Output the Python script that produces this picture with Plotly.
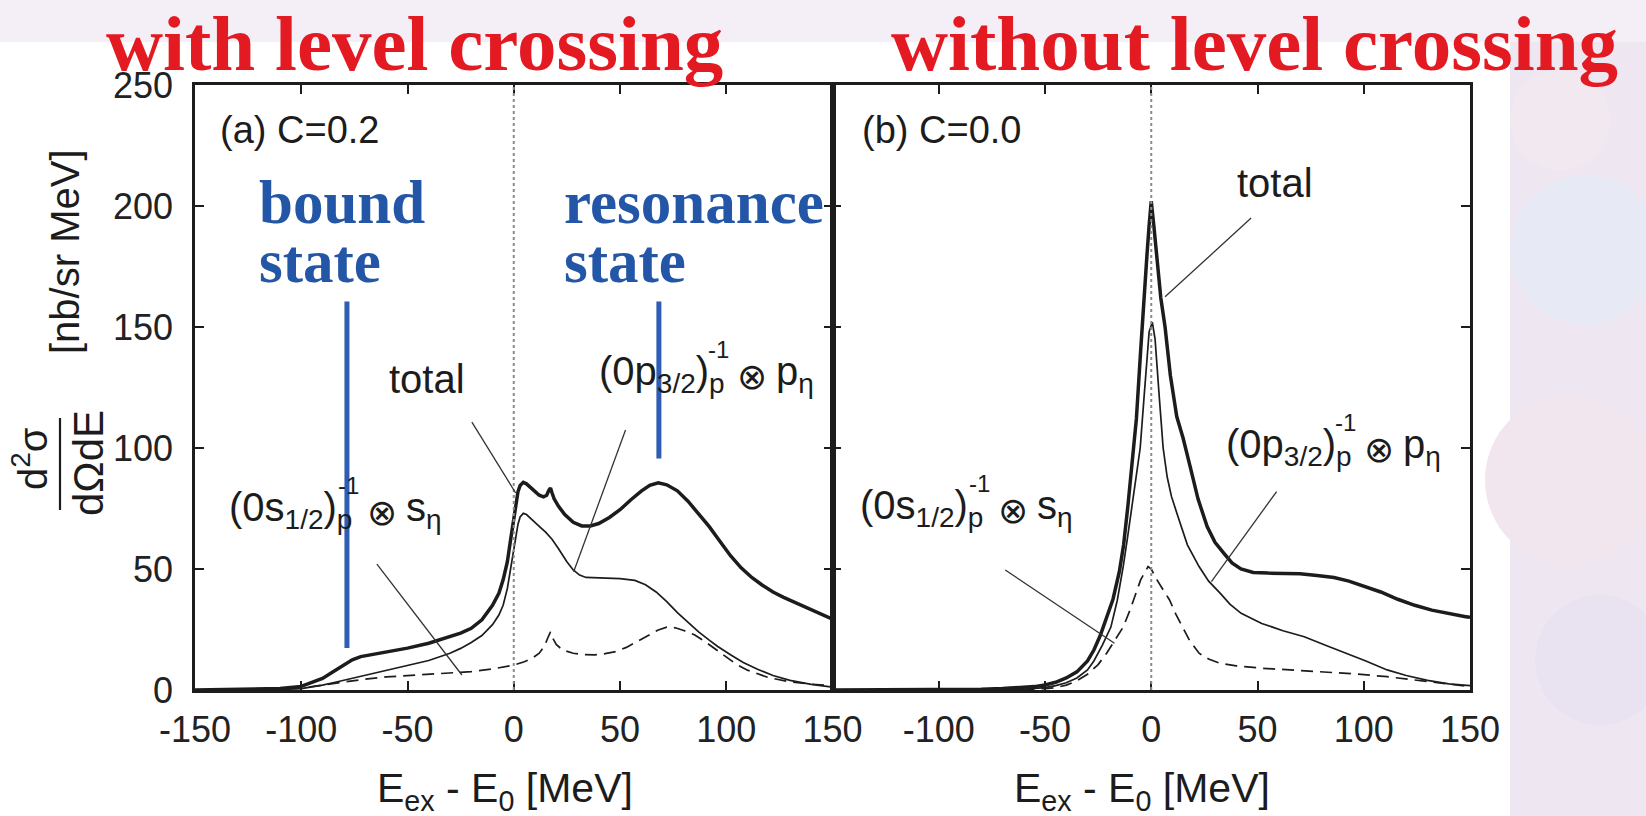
import plotly.graph_objects as go

# ---------------- data: panel (a) C=0.2 ----------------
XA_TOTAL = [-150, -120, -110, -100, -95, -90, -85, -80, -76, -72, -66, -60, -50, -40, -30, -25, -20, -15, -10, -7,
            -5, -3, -1.5, 0, 1, 2, 3, 4.5, 6, 8, 10, 12, 14, 15.5, 16.5, 17.3, 18, 19, 21, 24,
            28, 32, 36, 40, 45, 50, 55, 60, 64, 68, 72, 77, 82, 87, 92, 97, 102, 107, 112, 117,
            122, 127, 132, 137, 142, 148, 150]
YA_TOTAL = [0, 0.2, 0.6, 1.5, 3, 4.8, 7.5, 10.2, 12.5, 13.8, 14.8, 15.6, 17.3, 19.3, 22, 23.5, 25.5, 29, 35, 40,
            45.5, 53, 62, 71, 78, 82, 84.5, 85.8, 85.2, 83.6, 82, 80.5, 79.8, 80.5, 82.5, 83.5, 81.5, 79, 76, 72.5,
            69.3, 67.8, 67.8, 68.8, 71.3, 74.5, 78.5, 82.2, 84.6, 85.6, 84.8, 82.3, 78, 73, 67.5, 61.5, 55.5, 50.5, 46.5, 43.3,
            40.5, 38.3, 36.3, 34.5, 32.5, 30, 29.3]

XA_P32 = [-150, -110, -100, -95, -90, -85, -80, -75, -70, -60, -50, -40, -30, -25, -20, -15, -10, -7, -5, -3,
          -1.5, 0, 1, 2, 3, 4.5, 6, 8, 10, 12.5, 15, 18, 21, 25, 28, 31, 34, 40, 50, 57,
          62, 67, 72, 77, 82, 87, 92, 96, 102, 108, 115, 122, 130, 140, 150]
YA_P32 = [0, 0.2, 0.6, 1.2, 2, 3, 4, 5, 6, 8, 10, 12.2, 15.2, 17.2, 19.6, 22.5, 27, 31, 35, 42,
          50, 58, 64, 68.5, 71.5, 73, 72.5, 70.8, 69, 67.2, 65.2, 62.3, 58.5, 53, 49.6, 47.5, 46.5, 46.2, 46, 45.3,
          43.5, 40.5, 36.5, 32, 27.8, 24, 20.6, 18, 14.6, 11.4, 8.5, 6, 4, 2.3, 1.2]

XA_S12 = [-150, -110, -100, -90, -80, -70, -60, -50, -40, -30, -20, -10, -5, 0, 5, 9, 12, 14.5, 16, 17.3,
          18.3, 20, 23, 28, 33, 38, 43, 48, 53, 58, 63, 68, 72, 76, 80, 85, 90, 95, 100, 105,
          110, 115, 120, 130, 140, 150]
YA_S12 = [0, 0.3, 0.8, 2, 3.4, 4.5, 5.4, 5.9, 6.3, 6.9, 7.6, 8.7, 9.4, 10.3, 11.7, 13.3, 15.2, 18.2, 21.5, 24,
          21.5, 18.8, 16.5, 15.2, 14.6, 14.5, 15, 15.9, 17.6, 20, 22.6, 24.8, 26, 25.7, 24.6, 22.8, 20, 16.8, 13.5, 10.5,
          8.2, 6.5, 5.1, 3.4, 2.4, 1.8]

# ---------------- data: panel (b) C=0.0 ----------------
XB_TOTAL = [-150, -100, -80, -70, -60, -55, -50, -45, -40, -35, -30, -27, -24, -21, -18, -15, -13, -11, -9, -7,
            -5, -3.5, -2, -1, 0, 1.2, 2.7, 4.5, 6.5, 9, 12, 15, 18.4, 22, 26.3, 30, 34.2, 38, 42.2, 48,
            55, 62, 70, 78, 86, 93, 101, 108, 116, 124, 132, 140, 148, 150]
YB_TOTAL = [0, 0.1, 0.3, 0.6, 1, 1.4, 2.1, 3.2, 5, 7.5, 12, 16.5, 22.5, 29.5, 37.5, 49, 60, 76, 93, 112,
            140, 162, 180, 192, 202, 192, 178, 162, 150, 130, 113, 104, 92, 79, 67.5, 61, 56.5, 52.5, 50, 48.6,
            48.3, 48.2, 48, 47.3, 46.5, 45, 42.7, 40.5, 37.5, 35, 33, 31.5, 30.3, 30]

XB_P32 = [-150, -80, -60, -50, -45, -40, -35, -30, -27, -23, -19, -16, -13.2, -11, -9, -7, -5.2, -3.3, -2, -1,
          0.5, 1.8, 3.7, 5.6, 7.5, 9.5, 12.6, 17, 22.5, 27, 32.4, 37, 42.3, 52, 62, 72, 82, 92, 101, 111,
          120, 130, 140, 150]
YB_P32 = [0, 0.1, 0.3, 1, 1.8, 3, 5, 8.3, 12, 18.5, 26, 37, 51, 64, 77, 88, 100, 122, 138, 148,
          152, 145, 122, 100, 88, 80, 71.6, 60, 51, 45, 40, 35.5, 31.7, 27.5, 24.5, 22, 18.5, 15.2, 12, 8.3,
          6, 4, 2.5, 1.8]

XB_S12 = [-150, -70, -60, -50, -45, -40, -35, -30, -25, -21, -17, -13.2, -10, -7.2, -5, -1.5, 0, 2.7, 5.5, 8.6,
          11.5, 14.6, 18, 22.5, 27, 32.4, 40, 52, 65, 82, 95, 111, 130, 148, 150]
YB_S12 = [0, 0.1, 0.2, 0.6, 1, 2, 3.8, 6.5, 10.5, 15.2, 20.5, 26, 33, 40, 45.5, 51, 50, 45.5, 41.5, 37.2,
          31.5, 26, 20.5, 15.2, 12.8, 11, 10, 9, 8.3, 7.6, 6.7, 5.5, 3.5, 1.5, 1.4]

X_TICKS_A = [-150, -100, -50, 0, 50, 100, 150]
X_TICKS_B = [-100, -50, 0, 50, 100, 150]
Y_TICKS = [0, 50, 100, 150, 200, 250]

# ---------------- layout geometry ----------------
W, H = 1646, 816
ML, MR, MT, MB = 195, 176, 85, 126
PW, PH = W - ML - MR, H - MT - MB


def P(px, py):
    return (px - ML) / PW, (H - MB - py) / PH


SANS = "Liberation Sans, Arial, Helvetica, sans-serif"
SERIF = "Liberation Serif, Times New Roman, serif"
BLUE = "#2456a8"
BLUE_LINE = "#2f5db3"
RED = "#e41a22"
INK = "#1c1c1c"

fig = go.Figure()


def curve(xs, ys, xa, ya, width, dash=None):
    fig.add_trace(go.Scatter(x=xs, y=ys, mode="lines", xaxis=xa, yaxis=ya,
                             line=dict(color=INK, width=width, dash=dash),
                             showlegend=False, hoverinfo="skip"))


DASH = "12px,7px"
curve(XA_S12, YA_S12, "x", "y", 1.7, DASH)
curve(XA_P32, YA_P32, "x", "y", 1.7)
curve(XA_TOTAL, YA_TOTAL, "x", "y", 3.5)
curve(XB_S12, YB_S12, "x2", "y2", 1.7, DASH)
curve(XB_P32, YB_P32, "x2", "y2", 1.7)
curve(XB_TOTAL, YB_TOTAL, "x2", "y2", 3.5)

ann = []


def text(px, py, s, size, family=SANS, color=INK, xanchor="left", angle=0):
    x, y = P(px, py)
    ann.append(dict(x=x, y=y, xref="paper", yref="paper", text=s, showarrow=False,
                    xanchor=xanchor, yanchor="middle", textangle=angle,
                    font=dict(family=family, size=size, color=color)))


def comp_label(left, base, letter, frac):
    text(left, base - 11, f"(0{letter}<sub>{frac}</sub>)<sub>p</sub>", 40)
    text(left + 109, base - 36, "-1", 24)
    text(left + 155, base - 9, "\u2297", 36, family="DejaVu Sans", xanchor="center")
    text(left + 177, base - 11, f"{letter}<sub>\u03b7</sub>", 40)


# titles
text(414, 43, "<b>with level crossing</b>", 79, family=SERIF, color=RED, xanchor="center")
text(1254, 43, "<b>without level crossing</b>", 79, family=SERIF, color=RED, xanchor="center")

# panel tags
text(218, 130, "(a) C=0.2", 38)
text(860, 130, "(b) C=0.0", 38)
text(387, 379, "total", 40)
text(1235, 183, "total", 40)

# blue state labels
text(257, 202, "<b>bound</b>", 61, family=SERIF, color=BLUE)
text(257, 261, "<b>state</b>", 61, family=SERIF, color=BLUE)
text(562, 202, "<b>resonance</b>", 61, family=SERIF, color=BLUE)
text(562, 261, "<b>state</b>", 61, family=SERIF, color=BLUE)

# component labels
comp_label(227, 521, "s", "1/2")
comp_label(597, 385, "p", "3/2")
comp_label(858, 519, "s", "1/2")
comp_label(1224, 458, "p", "3/2")

# axis titles
text(505, 791, "E<sub>ex</sub> - E<sub>0</sub> [MeV]", 41, xanchor="center")
text(1142, 791, "E<sub>ex</sub> - E<sub>0</sub> [MeV]", 41, xanchor="center")
text(65, 252, "[nb/sr MeV]", 40, xanchor="center", angle=-90)
text(30, 458, "d<sup>2</sup>\u03c3", 40, xanchor="center", angle=-90)
text(88, 463, "d\u03a9dE", 42, xanchor="center", angle=-90)

shapes = []
# slide background
bx0, by0 = P(1510, 816)
bx1, by1 = P(1646, 0)
shapes.append(dict(type="rect", xref="paper", yref="paper", x0=bx0, x1=bx1, y0=by0, y1=by1,
                   fillcolor="#eee7f1", line_width=0, layer="below"))
for (cx, cy, r, col) in [(1585, 250, 75, "#e7eaf4"), (1570, 480, 85, "#f1e6ee"), (1600, 660, 65, "#e9e3f1"),
                         (1560, 120, 50, "#f1e8f0")]:
    ex0, ey0 = P(cx - r, cy + r)
    ex1, ey1 = P(cx + r, cy - r)
    shapes.append(dict(type="circle", xref="paper", yref="paper", x0=ex0, x1=ex1, y0=ey0, y1=ey1,
                       fillcolor=col, line_width=0, layer="below"))
tx0, ty0 = P(0, 42)
tx1, ty1 = P(1646, 0)
shapes.append(dict(type="rect", xref="paper", yref="paper", x0=tx0, x1=tx1, y0=ty0, y1=ty1,
                   fillcolor="#f4eff6", line_width=0, layer="below"))

# fraction bar of the y label
fx, fy0 = P(60, 418)
_, fy1 = P(60, 510)
shapes.append(dict(type="line", xref="paper", yref="paper", x0=fx, x1=fx, y0=fy0, y1=fy1,
                   line=dict(color=INK, width=2.2)))

# dotted E=E0 lines
for xa, ya in [("x", "y"), ("x2", "y2")]:
    shapes.append(dict(type="line", xref=xa, yref=ya, x0=0, x1=0, y0=0, y1=250,
                       line=dict(color="#8a8a8a", width=2, dash="dot")))

# leader lines
for xa, ya, x0, y0, x1, y1 in [("x", "y", -19.7, 110.7, 0.9, 81.4),
                               ("x", "y", 52.6, 107.4, 28.2, 48.9),
                               ("x", "y", -64.4, 52, -24.4, 6.2),
                               ("x2", "y2", 47, 195, 6.5, 162.5),
                               ("x2", "y2", 59, 82, 28.3, 44.8),
                               ("x2", "y2", -68.7, 49.6, -17.3, 19.3)]:
    shapes.append(dict(type="line", xref=xa, yref=ya, x0=x0, y0=y0, x1=x1, y1=y1,
                       line=dict(color="#333", width=1.3)))

# blue state markers
shapes.append(dict(type="line", xref="x", yref="y", x0=-78.5, x1=-78.5, y0=17.4, y1=160.5,
                   line=dict(color=BLUE_LINE, width=5)))
shapes.append(dict(type="line", xref="x", yref="y", x0=68.3, x1=68.3, y0=95.7, y1=160.5,
                   line=dict(color=BLUE_LINE, width=5)))

axis_common = dict(showline=True, linecolor=INK, linewidth=2.5, mirror="ticks", ticks="inside",
                   ticklen=9, tickwidth=1.5, tickcolor=INK, showgrid=False, zeroline=False,
                   tickfont=dict(family=SANS, size=36, color="#222"))

fig.update_layout(
    width=W, height=H, autosize=False,
    margin=dict(l=ML, r=MR, t=MT, b=MB, pad=0),
    paper_bgcolor="white", plot_bgcolor="white",
    showlegend=False,
    xaxis=dict(domain=[0, 0.5], range=[-150, 150], tickvals=X_TICKS_A,
               ticktext=[str(v) for v in X_TICKS_A], anchor="y", ticklabelstandoff=6, **axis_common),
    xaxis2=dict(domain=[0.5, 1], range=[-150, 150], tickvals=X_TICKS_B,
                ticktext=[str(v) for v in X_TICKS_B], anchor="y2", ticklabelstandoff=6, **axis_common),
    yaxis=dict(domain=[0, 1], range=[0, 250], tickvals=Y_TICKS, ticktext=[str(v) for v in Y_TICKS],
               anchor="x", ticklabelstandoff=12, **axis_common),
    yaxis2=dict(domain=[0, 1], range=[0, 250], tickvals=Y_TICKS, anchor="x2", showticklabels=False,
                **axis_common),
    annotations=ann,
    shapes=shapes,
)

fig.write_html("out.html", config={"displayModeBar": False})
